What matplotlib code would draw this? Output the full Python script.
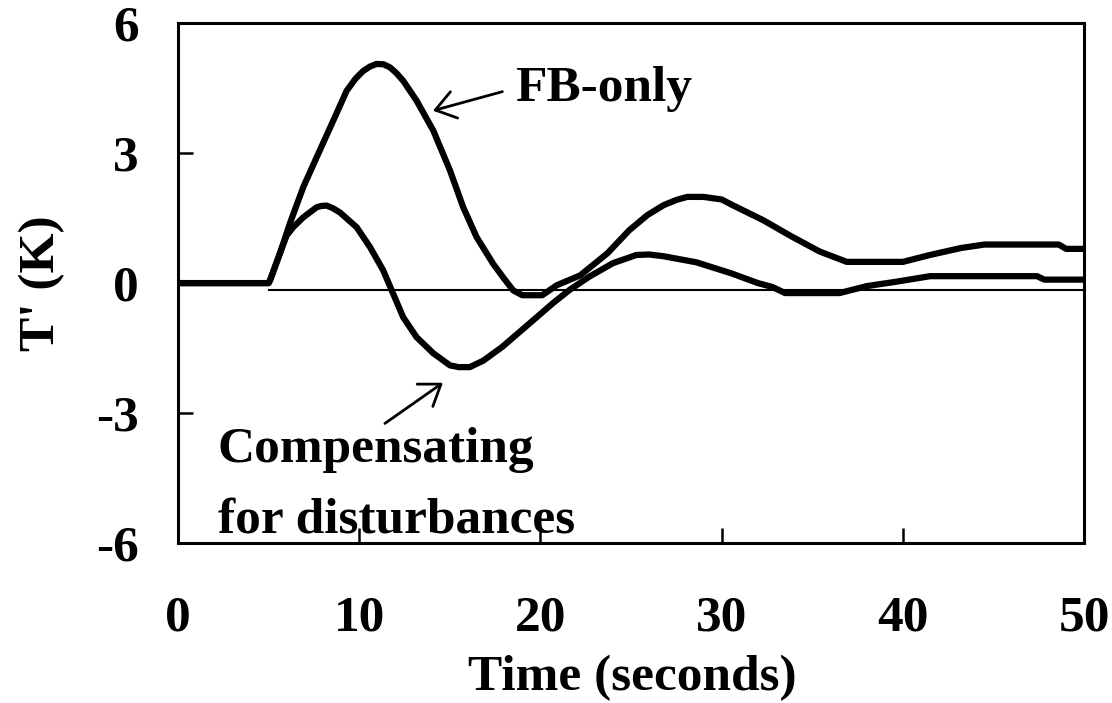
import matplotlib
matplotlib.use("Agg")
import matplotlib.pyplot as plt

plt.rcParams["axes.unicode_minus"] = False

# --- data ---
t_fb = [0, 5, 5.08, 5.63, 6.18, 6.92, 7.65, 8.57, 9.31, 9.8, 10.23, 10.6,
        10.96, 11.35, 11.7, 12.05, 12.43, 13.17, 14.09, 15.01, 15.74, 16.48,
        17.4, 18.0, 18.5, 19.0, 20.1, 20.9, 22.2, 23.7, 24.9, 25.9, 26.8,
        27.5, 28.1, 29.0, 30.0, 30.6, 32.3, 33.8, 35.4, 36.9, 40.0, 41.5,
        43.2, 44.5, 48.6, 49.0, 50]
T_fb = [0, 0, 0.06, 0.69, 1.38, 2.22, 2.90, 3.75, 4.44, 4.72, 4.90, 5.0,
        5.06, 5.05, 4.98, 4.85, 4.67, 4.21, 3.52, 2.60, 1.75, 1.06,
        0.44, 0.10, -0.17, -0.28, -0.28, -0.05, 0.18, 0.69, 1.22, 1.57, 1.80,
        1.92, 1.99, 1.99, 1.93, 1.80, 1.45, 1.09, 0.73, 0.49, 0.49, 0.65,
        0.81, 0.89, 0.89, 0.79, 0.79]

t_comp = [0, 5, 5.08, 5.63, 6.0, 6.36, 6.92, 7.65, 7.9, 8.2, 8.55, 8.94,
          9.86, 10.6, 11.33, 11.88, 12.43, 13.17, 14.09, 15.01, 15.5, 16.1,
          16.85, 17.9, 19.4, 20.7, 21.6, 22.7, 24.0, 25.3, 26.0, 26.8, 28.6,
          30.5, 32.0, 32.8, 33.5, 36.5, 38.0, 39.6, 41.5, 47.4, 47.8, 50]
T_comp = [0, 0, 0.06, 0.69, 1.1, 1.29, 1.52, 1.75, 1.78, 1.79, 1.73, 1.63,
          1.29, 0.83, 0.29, -0.25, -0.79, -1.25, -1.62, -1.90, -1.94, -1.94,
          -1.79, -1.47, -0.93, -0.46, -0.16, 0.15, 0.46, 0.65, 0.66, 0.62,
          0.48, 0.23, 0.0, -0.09, -0.23, -0.23, -0.07, 0.03, 0.16, 0.16,
          0.08, 0.08]

ref_t = [5, 50]
ref_T = [-0.15, -0.15]

x_ticks = [0, 10, 20, 30, 40, 50]
y_ticks = [-6, -3, 0, 3, 6]

FONT = "Liberation Serif"
FS = 37

fig = plt.figure(figsize=(11.12, 7.03), dpi=100)
ax = fig.add_axes([0.160, 0.2276, 0.815, 0.7394])

ax.plot(ref_t, ref_T, color="black", lw=1.5)
ax.plot(t_fb, T_fb, color="black", lw=4.5, solid_joinstyle="round")
ax.plot(t_comp, T_comp, color="black", lw=4.5, solid_joinstyle="round")

ax.set_xlim(0, 50)
ax.set_ylim(-6, 6)
ax.set_xticks(x_ticks)
ax.set_yticks(y_ticks)
ax.tick_params(axis="both", direction="in", length=11, width=1.8,
               labelsize=FS)
ax.tick_params(axis="x", pad=38)
ax.tick_params(axis="y", pad=28)
for lab in ax.get_xticklabels() + ax.get_yticklabels():
    lab.set_fontfamily(FONT)
    lab.set_fontweight("bold")
for sp in ax.spines.values():
    sp.set_linewidth(2.2)

ax.set_xlabel("Time (seconds)", fontfamily=FONT, fontweight="bold", fontsize=FS)
ax.xaxis.label.set_va("center")
ax.xaxis.set_label_coords(0.501, -0.260)
ax.set_ylabel("T' (K)", fontfamily=FONT, fontweight="bold", fontsize=FS)
ax.yaxis.label.set_va("center")
ax.yaxis.set_label_coords(-0.150, 0.5)

# annotations
arrow = dict(arrowstyle="->,head_length=0.4,head_width=0.28", lw=2,
             color="black", mutation_scale=35, shrinkA=0, shrinkB=0)
ax.annotate("", xy=(14.07, 3.98), xytext=(17.9, 4.42), arrowprops=arrow)
ax.annotate("", xy=(14.62, -2.30), xytext=(11.42, -3.24), arrowprops=arrow)

ax.text(18.6, 4.21, "FB-only", fontfamily=FONT, fontweight="bold",
        fontsize=FS, va="baseline", ha="left")
ax.text(2.21, -4.12, "Compensating", fontfamily=FONT, fontweight="bold",
        fontsize=FS, va="baseline", ha="left")
ax.text(2.21, -5.76, "for disturbances", fontfamily=FONT, fontweight="bold",
        fontsize=FS, va="baseline", ha="left")

fig.savefig("out.png", dpi=100)
